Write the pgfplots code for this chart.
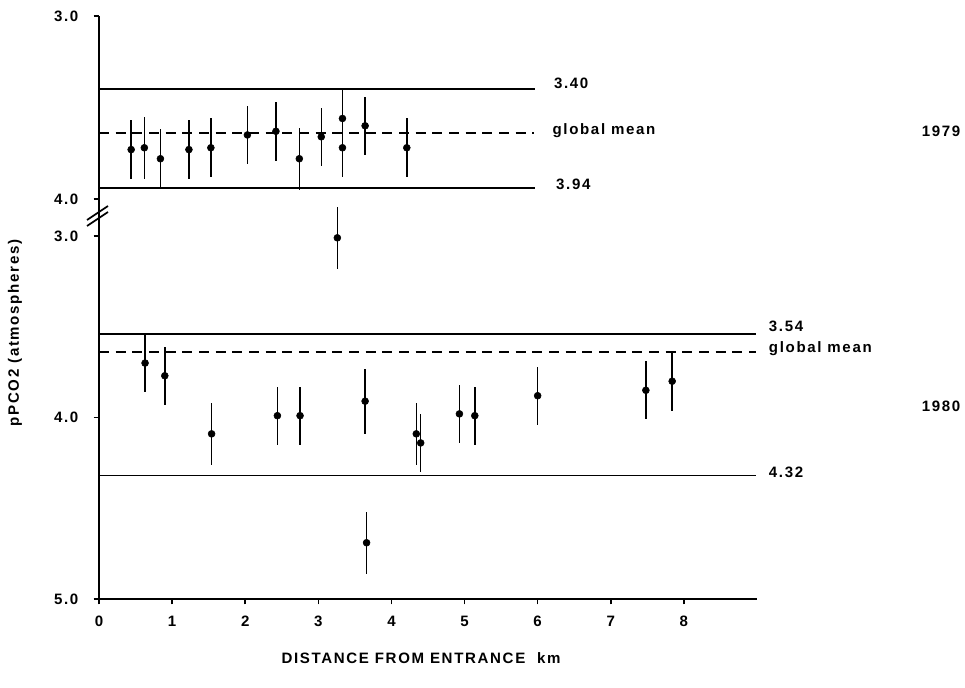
\documentclass[border=0pt]{standalone}
\usepackage{pgfplots}
\pgfplotsset{compat=1.18}
\usepackage{fontspec}
\setmainfont{Liberation Sans}[LetterSpace=11]
\newcommand{\lab}{\fontsize{11.3}{13}\selectfont\bfseries}
\pgfplotstableread{
x y e
0.44 3.73 0.16
0.62 3.72 0.17
0.84 3.78 0.16
1.23 3.73 0.16
1.53 3.72 0.16
2.03 3.65 0.16
2.42 3.63 0.16
2.74 3.78 0.17
3.04 3.66 0.16
3.33 3.56 0.16
3.33 3.72 0.16
3.64 3.60 0.16
4.21 3.72 0.16
}\topdata
\pgfplotstableread{
x y e
3.26 3.01 0.17
0.63 3.70 0.16
0.90 3.77 0.16
1.54 4.09 0.17
2.44 3.99 0.16
2.75 3.99 0.16
3.64 3.91 0.18
4.34 4.09 0.17
4.40 4.14 0.16
4.93 3.98 0.16
5.14 3.99 0.16
6.00 3.88 0.16
7.48 3.85 0.16
7.84 3.80 0.165
3.66 4.69 0.17
}\botdata
\pgfplotsset{
  common/.style={
    scale only axis, width=493.5pt, xmin=0, xmax=9,
    y dir=reverse, clip=false,
    tick align=outside, major tick length=4pt,
    axis line style={line width=1.8pt},
    every tick/.style={black, line width=1.2pt},
    tick label style={font=\lab},
    /pgf/number format/assume math mode=true,
    yticklabel style={xshift=-8pt},
  },
  pts/.style={only marks, mark=*, black, mark size=2.6pt,
    error bars/.cd, y dir=both, y explicit, error mark=none,
    error bar style={line width=1.1pt}},
  hl/.style={black, line width=1.1pt},
  gm/.style={black, line width=1.1pt, dash pattern=on 7.5pt off 5pt},
}
\tikzset{lbl/.style={anchor=west, inner sep=0pt, font=\lab}}
\begin{document}
\begin{tikzpicture}
\useasboundingbox (0,0) rectangle (723.75pt,515.25pt);
% top panel (1979)
\begin{axis}[common, at={(74.25pt,366pt)}, anchor=south west,
  height=137.25pt, ymin=3, ymax=4, ytick={3,4}, yticklabels={3.0,4.0},
  axis x line=none, axis y line*=left]
\addplot[hl] coordinates {(0,3.40) (5.97,3.40)};
\addplot[hl] coordinates {(0,3.94) (5.97,3.94)};
\addplot[gm] coordinates {(0,3.64) (5.95,3.64)};
\addplot[pts] table[x=x, y=y, y error=e] {\topdata};
\node[lbl] at (axis cs:6.22,3.366) {3.40};
\node[lbl] at (axis cs:6.2,3.628) {global mean};
\node[lbl] at (axis cs:6.25,3.918) {3.94};
\node[lbl] at (axis cs:11.25,3.63) {1979};
\end{axis}
% bottom panel (1980)
\begin{axis}[common, at={(74.25pt,66pt)}, anchor=south west,
  height=272.25pt, ymin=3, ymax=5, ytick={3,4,5}, yticklabels={3.0,4.0,5.0},
  xtick={0,1,...,8}, xticklabel style={yshift=-5pt},
  axis x line*=bottom, axis y line*=left]
\addplot[hl] coordinates {(0,3.54) (8.99,3.54)};
\addplot[hl] coordinates {(0,4.32) (8.99,4.32)};
\addplot[gm] coordinates {(0,3.64) (8.99,3.64)};
\addplot[pts] table[x=x, y=y, y error=e] {\botdata};
\node[lbl] at (axis cs:9.16,3.50) {3.54};
\node[lbl] at (axis cs:9.16,3.62) {global mean};
\node[lbl] at (axis cs:9.16,4.30) {4.32};
\node[lbl] at (axis cs:11.25,3.94) {1980};
\end{axis}
% axis break
\draw[line width=1.8pt] (74.25pt,366pt) -- (74.25pt,338.25pt);
\draw[line width=1.3pt] (65.25pt,350.25pt) -- (81pt,360.75pt);
\draw[line width=1.3pt] (65.25pt,345.75pt) -- (81pt,356.25pt);
% labels
\node[rotate=90, font=\lab] at (11.25pt,265.5pt) {pPCO2 (atmospheres)};
\node[font=\lab] at (315.75pt,21.75pt) {DISTANCE FROM ENTRANCE\ \ km};
\end{tikzpicture}
\end{document}
